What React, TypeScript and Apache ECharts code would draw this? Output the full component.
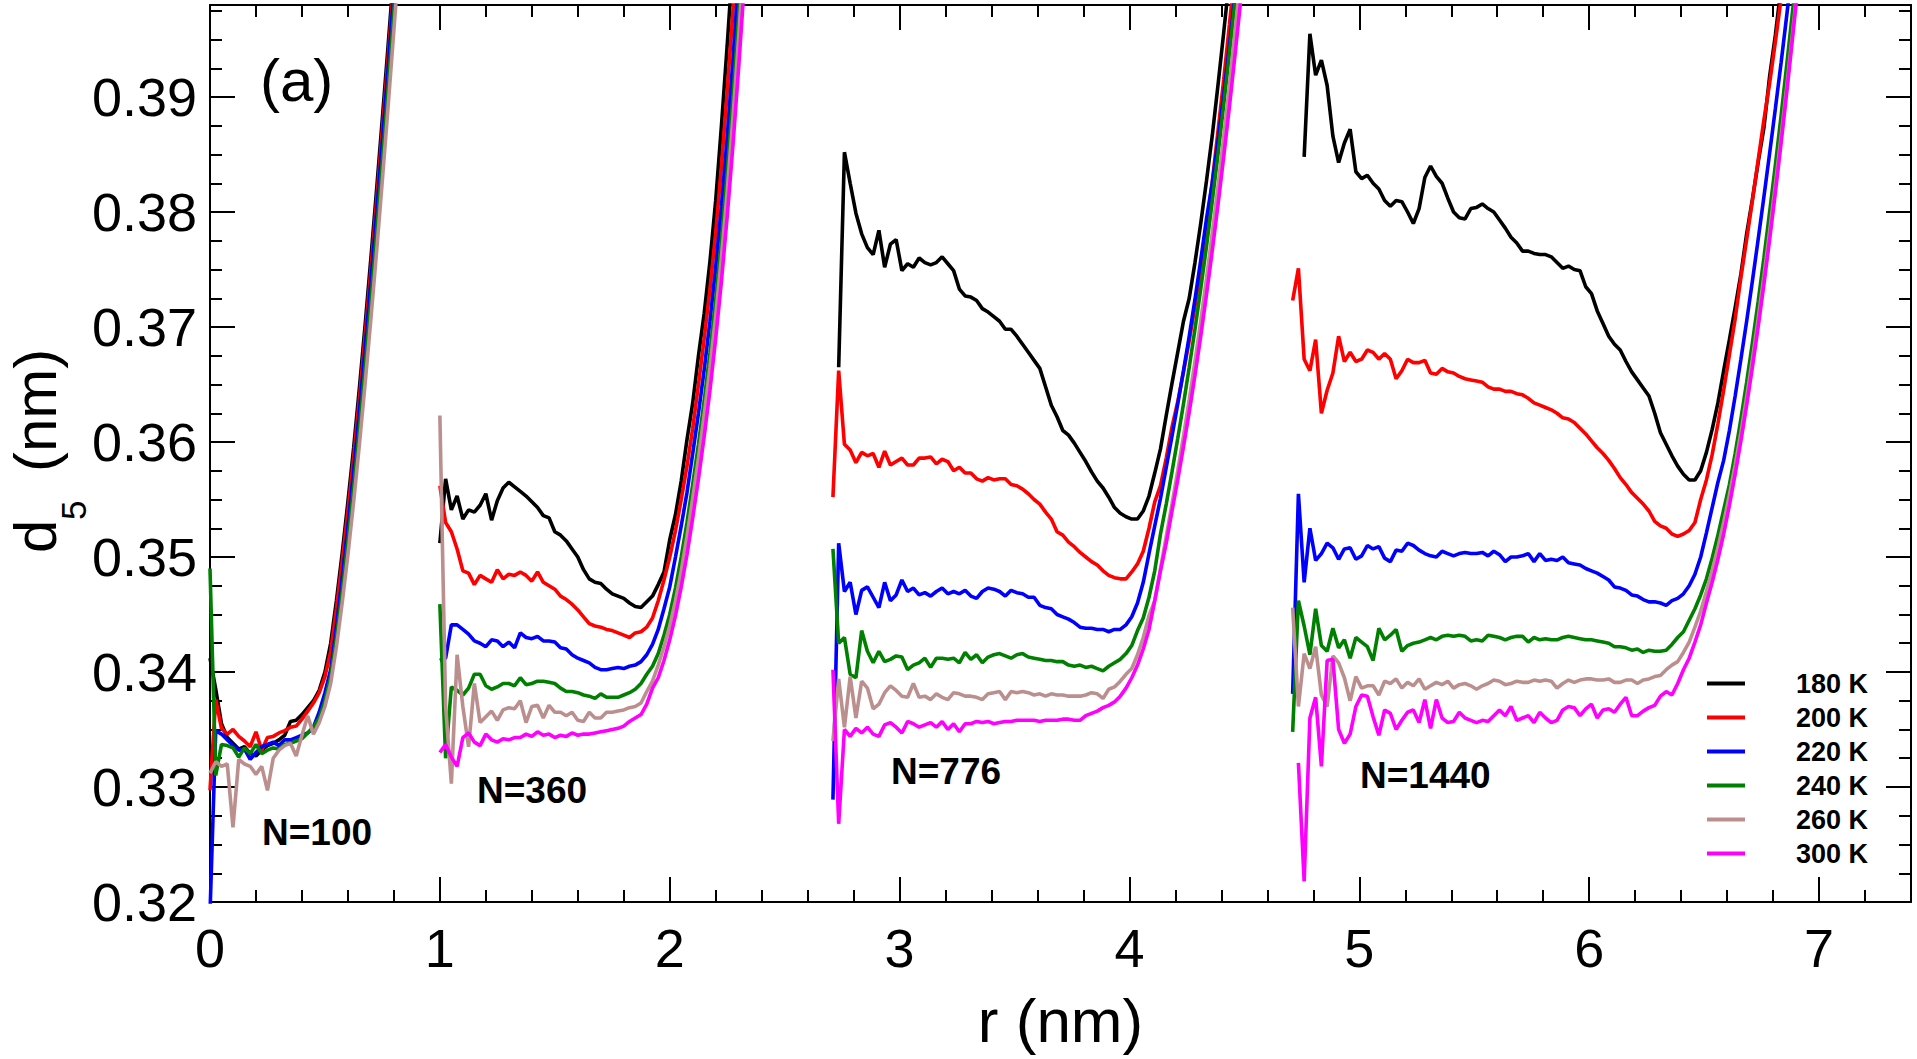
import React, { useEffect, useRef } from 'react';
import * as echarts from 'echarts';

// Sampling of every curve: one value per STEP nm, starting at the cluster's first r.
const STEP = 0.025;
const clusterStarts = [0.0, 1.0, 2.71, 4.71];
const clusterLabels = ['N=100', 'N=360', 'N=776', 'N=1440'];
const temperatures = ['180 K', '200 K', '220 K', '240 K', '260 K', '300 K'];
const lineColors = ['#000000', '#ff0000', '#0000ff', '#008000', '#bc8f8f', '#ff00ff'];
const xTickValues = [0, 1, 2, 3, 4, 5, 6, 7];
const yTickValues = [0.32, 0.33, 0.34, 0.35, 0.36, 0.37, 0.38, 0.39];

// ---- N = 100 ----
const k180_n100 = [0.3412, 0.3385, 0.3355, 0.3343, 0.3338, 0.3333, 0.3335, 0.3329, 0.3327, 0.3332, 0.3336, 0.3338, 0.3341, 0.3345, 0.3357, 0.3358, 0.3363, 0.3369, 0.3375, 0.3384, 0.3400, 0.3425, 0.3462, 0.3503, 0.3548, 0.3595, 0.3647, 0.3702, 0.3760, 0.3820, 0.3882, 0.3945, 0.4010];
const k200_n100 = [0.3297, 0.3376, 0.3351, 0.3346, 0.3350, 0.3344, 0.3340, 0.3335, 0.3348, 0.3332, 0.3343, 0.3344, 0.3347, 0.3349, 0.3352, 0.3353, 0.3359, 0.3366, 0.3373, 0.3382, 0.3396, 0.3418, 0.3455, 0.3496, 0.3540, 0.3587, 0.3638, 0.3693, 0.3750, 0.3810, 0.3872, 0.3935, 0.4000];
const k220_n100 = [0.3190, 0.3349, 0.3346, 0.3341, 0.3336, 0.3332, 0.3333, 0.3324, 0.3330, 0.3335, 0.3337, 0.3339, 0.3336, 0.3341, 0.3341, 0.3343, 0.3345, 0.3347, 0.3352, 0.3365, 0.3382, 0.3402, 0.3440, 0.3482, 0.3527, 0.3575, 0.3627, 0.3682, 0.3740, 0.3800, 0.3862, 0.3926, 0.3992, 0.4060];
const k240_n100 = [0.3490, 0.3310, 0.3337, 0.3336, 0.3334, 0.3326, 0.3334, 0.3329, 0.3337, 0.3329, 0.3332, 0.3334, 0.3333, 0.3337, 0.3338, 0.3340, 0.3342, 0.3347, 0.3352, 0.3360, 0.3375, 0.3396, 0.3430, 0.3470, 0.3514, 0.3561, 0.3612, 0.3666, 0.3723, 0.3783, 0.3845, 0.3909, 0.3975, 0.4043];
const k260_n100 = [0.3312, 0.3322, 0.3318, 0.3320, 0.3265, 0.3324, 0.3320, 0.3318, 0.3311, 0.3318, 0.3297, 0.3325, 0.3332, 0.3336, 0.3338, 0.3327, 0.3345, 0.3362, 0.3346, 0.3356, 0.3370, 0.3390, 0.3422, 0.3460, 0.3502, 0.3548, 0.3598, 0.3651, 0.3707, 0.3766, 0.3828, 0.3892, 0.3958, 0.4026];
const k300_n100: (number | null)[] = [];

// ---- N = 360 ----
const k180_n360 = [0.3512, 0.3568, 0.3541, 0.3553, 0.3533, 0.3541, 0.3539, 0.3545, 0.3555, 0.3532, 0.3549, 0.3560, 0.3565, 0.3561, 0.3557, 0.3553, 0.3548, 0.3543, 0.3536, 0.3534, 0.3522, 0.3519, 0.3514, 0.3507, 0.3500, 0.3489, 0.3481, 0.3478, 0.3477, 0.3472, 0.3468, 0.3466, 0.3464, 0.3460, 0.3457, 0.3456, 0.3461, 0.3466, 0.3476, 0.3487, 0.3515, 0.3537, 0.3566, 0.3602, 0.3634, 0.3675, 0.3712, 0.3757, 0.3810, 0.3875, 0.3945, 0.4020];
const k200_n360 = [0.3562, 0.3530, 0.3522, 0.3507, 0.3488, 0.3486, 0.3476, 0.3484, 0.3481, 0.3478, 0.3489, 0.3481, 0.3485, 0.3484, 0.3487, 0.3484, 0.3479, 0.3487, 0.3478, 0.3475, 0.3472, 0.3466, 0.3463, 0.3459, 0.3454, 0.3448, 0.3442, 0.3440, 0.3439, 0.3437, 0.3436, 0.3434, 0.3432, 0.3430, 0.3434, 0.3435, 0.3439, 0.3447, 0.3462, 0.3480, 0.3500, 0.3523, 0.3550, 0.3579, 0.3612, 0.3650, 0.3690, 0.3733, 0.3782, 0.3840, 0.3905, 0.3975, 0.4050];
const k220_n360 = [0.3410, 0.3412, 0.3441, 0.3441, 0.3437, 0.3433, 0.3427, 0.3425, 0.3422, 0.3428, 0.3427, 0.3422, 0.3426, 0.3421, 0.3434, 0.3430, 0.3429, 0.3431, 0.3427, 0.3427, 0.3426, 0.3421, 0.3420, 0.3415, 0.3412, 0.3410, 0.3408, 0.3404, 0.3402, 0.3402, 0.3403, 0.3404, 0.3403, 0.3405, 0.3406, 0.3409, 0.3415, 0.3424, 0.3437, 0.3455, 0.3474, 0.3500, 0.3527, 0.3556, 0.3590, 0.3625, 0.3663, 0.3705, 0.3752, 0.3805, 0.3865, 0.3932, 0.4005];
const k240_n360 = [0.3459, 0.3325, 0.3387, 0.3384, 0.3380, 0.3386, 0.3398, 0.3398, 0.3388, 0.3385, 0.3387, 0.3390, 0.3390, 0.3388, 0.3395, 0.3389, 0.3390, 0.3392, 0.3392, 0.3391, 0.3390, 0.3386, 0.3383, 0.3383, 0.3382, 0.3380, 0.3379, 0.3377, 0.3381, 0.3378, 0.3378, 0.3378, 0.3380, 0.3382, 0.3385, 0.3390, 0.3398, 0.3405, 0.3416, 0.3432, 0.3450, 0.3473, 0.3500, 0.3530, 0.3563, 0.3598, 0.3636, 0.3678, 0.3724, 0.3776, 0.3835, 0.3900, 0.3972, 0.4050];
const k260_n360 = [0.3623, 0.3370, 0.3303, 0.3415, 0.3370, 0.3335, 0.3390, 0.3356, 0.3361, 0.3366, 0.3358, 0.3367, 0.3369, 0.3368, 0.3375, 0.3356, 0.3370, 0.3371, 0.3360, 0.3371, 0.3365, 0.3365, 0.3362, 0.3365, 0.3358, 0.3357, 0.3365, 0.3360, 0.3360, 0.3365, 0.3365, 0.3366, 0.3367, 0.3369, 0.3370, 0.3373, 0.3383, 0.3392, 0.3406, 0.3422, 0.3440, 0.3462, 0.3488, 0.3518, 0.3551, 0.3586, 0.3624, 0.3665, 0.3710, 0.3761, 0.3818, 0.3882, 0.3952, 0.4030];
const k300_n360 = [0.3330, 0.3337, 0.3326, 0.3318, 0.3343, 0.3347, 0.3339, 0.3336, 0.3346, 0.3341, 0.3339, 0.3342, 0.3341, 0.3343, 0.3343, 0.3346, 0.3344, 0.3348, 0.3345, 0.3346, 0.3343, 0.3345, 0.3344, 0.3347, 0.3345, 0.3346, 0.3346, 0.3347, 0.3348, 0.3349, 0.3350, 0.3351, 0.3353, 0.3357, 0.3360, 0.3363, 0.3372, 0.3386, 0.3395, 0.3410, 0.3428, 0.3449, 0.3474, 0.3502, 0.3534, 0.3568, 0.3605, 0.3645, 0.3690, 0.3740, 0.3796, 0.3858, 0.3926, 0.4000, 0.4078];

// ---- N = 776 ----
const k180_n776 = [null, 0.3665, 0.3852, 0.3825, 0.3799, 0.3781, 0.3769, 0.3763, 0.3784, 0.3752, 0.3772, 0.3776, 0.3749, 0.3755, 0.3752, 0.3760, 0.3756, 0.3754, 0.3756, 0.3761, 0.3755, 0.3749, 0.3733, 0.3727, 0.3726, 0.3723, 0.3716, 0.3713, 0.3709, 0.3705, 0.3698, 0.3698, 0.3692, 0.3685, 0.3678, 0.3671, 0.3664, 0.3648, 0.3632, 0.3622, 0.3610, 0.3606, 0.3599, 0.3591, 0.3583, 0.3574, 0.3566, 0.3560, 0.3552, 0.3543, 0.3538, 0.3535, 0.3533, 0.3533, 0.3540, 0.3553, 0.3573, 0.3594, 0.3623, 0.3651, 0.3678, 0.3705, 0.3725, 0.3756, 0.3790, 0.3827, 0.3866, 0.3910, 0.3956, 0.4004, 0.4054];
const k200_n776 = [0.3552, 0.3662, 0.3598, 0.3593, 0.3582, 0.3591, 0.3588, 0.3590, 0.3578, 0.3592, 0.3580, 0.3583, 0.3586, 0.3580, 0.3580, 0.3586, 0.3586, 0.3587, 0.3581, 0.3585, 0.3583, 0.3575, 0.3578, 0.3573, 0.3573, 0.3568, 0.3566, 0.3569, 0.3567, 0.3568, 0.3568, 0.3563, 0.3562, 0.3559, 0.3555, 0.3550, 0.3546, 0.3539, 0.3533, 0.3522, 0.3519, 0.3513, 0.3509, 0.3504, 0.3500, 0.3496, 0.3493, 0.3488, 0.3484, 0.3482, 0.3481, 0.3481, 0.3487, 0.3494, 0.3505, 0.3525, 0.3548, 0.3562, 0.3586, 0.3613, 0.3635, 0.3661, 0.3688, 0.3718, 0.3751, 0.3786, 0.3826, 0.3870, 0.3915, 0.3963, 0.4012, 0.4062];
const k220_n776 = [0.3289, 0.3512, 0.3470, 0.3478, 0.3450, 0.3471, 0.3474, 0.3465, 0.3456, 0.3478, 0.3462, 0.3467, 0.3480, 0.3470, 0.3473, 0.3467, 0.3469, 0.3466, 0.3470, 0.3473, 0.3468, 0.3470, 0.3468, 0.3471, 0.3466, 0.3464, 0.3470, 0.3473, 0.3472, 0.3470, 0.3466, 0.3471, 0.3469, 0.3468, 0.3465, 0.3465, 0.3458, 0.3456, 0.3455, 0.3450, 0.3448, 0.3446, 0.3443, 0.3439, 0.3438, 0.3438, 0.3437, 0.3437, 0.3435, 0.3437, 0.3437, 0.3441, 0.3448, 0.3460, 0.3478, 0.3503, 0.3527, 0.3551, 0.3578, 0.3605, 0.3633, 0.3662, 0.3692, 0.3724, 0.3758, 0.3794, 0.3825, 0.3862, 0.3902, 0.3945, 0.3990, 0.4038];
const k240_n776 = [0.3507, 0.3425, 0.3430, 0.3398, 0.3395, 0.3436, 0.3418, 0.3408, 0.3418, 0.3409, 0.3411, 0.3414, 0.3413, 0.3402, 0.3406, 0.3408, 0.3412, 0.3404, 0.3412, 0.3412, 0.3411, 0.3412, 0.3408, 0.3417, 0.3411, 0.3415, 0.3408, 0.3413, 0.3415, 0.3416, 0.3414, 0.3412, 0.3415, 0.3416, 0.3413, 0.3412, 0.3411, 0.3410, 0.3410, 0.3409, 0.3409, 0.3406, 0.3405, 0.3406, 0.3404, 0.3405, 0.3403, 0.3401, 0.3405, 0.3408, 0.3411, 0.3416, 0.3423, 0.3436, 0.3447, 0.3465, 0.3488, 0.3520, 0.3546, 0.3574, 0.3603, 0.3633, 0.3665, 0.3698, 0.3733, 0.3770, 0.3809, 0.3850, 0.3893, 0.3938, 0.3985, 0.4034];
const k260_n776 = [0.3340, 0.3394, 0.3352, 0.3396, 0.3360, 0.3392, 0.3386, 0.3368, 0.3372, 0.3382, 0.3388, 0.3384, 0.3379, 0.3378, 0.3390, 0.3378, 0.3379, 0.3376, 0.3381, 0.3378, 0.3376, 0.3382, 0.3381, 0.3379, 0.3379, 0.3378, 0.3376, 0.3381, 0.3382, 0.3383, 0.3376, 0.3383, 0.3382, 0.3383, 0.3382, 0.3380, 0.3381, 0.3379, 0.3381, 0.3380, 0.3380, 0.3379, 0.3379, 0.3379, 0.3380, 0.3382, 0.3381, 0.3377, 0.3385, 0.3387, 0.3392, 0.3398, 0.3403, 0.3415, 0.3430, 0.3449, 0.3462, 0.3490, 0.3518, 0.3546, 0.3575, 0.3605, 0.3637, 0.3670, 0.3705, 0.3742, 0.3781, 0.3822, 0.3865, 0.3910, 0.3958, 0.4008];
const k300_n776 = [0.3402, 0.3268, 0.3350, 0.3344, 0.3351, 0.3347, 0.3352, 0.3346, 0.3344, 0.3354, 0.3356, 0.3352, 0.3347, 0.3357, 0.3355, 0.3352, 0.3354, 0.3356, 0.3352, 0.3357, 0.3350, 0.3355, 0.3348, 0.3355, 0.3355, 0.3357, 0.3356, 0.3357, 0.3355, 0.3356, 0.3357, 0.3357, 0.3358, 0.3358, 0.3358, 0.3358, 0.3357, 0.3358, 0.3358, 0.3358, 0.3359, 0.3359, 0.3358, 0.3358, 0.3362, 0.3364, 0.3366, 0.3369, 0.3371, 0.3374, 0.3379, 0.3386, 0.3395, 0.3406, 0.3420, 0.3437, 0.3462, 0.3488, 0.3512, 0.3540, 0.3567, 0.3596, 0.3626, 0.3658, 0.3692, 0.3728, 0.3766, 0.3806, 0.3848, 0.3892, 0.3938, 0.3986, 0.4036];

// ---- N = 1440 ----
const k180_n1440 = [null, null, 0.3848, 0.3955, 0.3919, 0.3932, 0.3910, 0.3866, 0.3843, 0.3860, 0.3872, 0.3835, 0.3829, 0.3832, 0.3825, 0.3820, 0.3810, 0.3805, 0.3810, 0.3809, 0.3800, 0.3790, 0.3803, 0.3830, 0.3840, 0.3831, 0.3825, 0.3812, 0.3800, 0.3795, 0.3794, 0.3803, 0.3804, 0.3807, 0.3803, 0.3800, 0.3793, 0.3786, 0.3778, 0.3773, 0.3766, 0.3766, 0.3764, 0.3763, 0.3763, 0.3761, 0.3756, 0.3751, 0.3753, 0.3750, 0.3749, 0.3735, 0.3729, 0.3714, 0.3703, 0.3692, 0.3685, 0.3680, 0.3670, 0.3661, 0.3654, 0.3647, 0.3640, 0.3625, 0.3608, 0.3598, 0.3588, 0.3579, 0.3572, 0.3567, 0.3567, 0.3575, 0.3591, 0.3611, 0.3634, 0.3662, 0.3689, 0.3717, 0.3746, 0.3781, 0.3811, 0.3843, 0.3873, 0.3918, 0.3954, 0.3996, 0.4040];
const k200_n1440 = [0.3723, 0.3751, 0.3672, 0.3662, 0.3689, 0.3625, 0.3645, 0.3660, 0.3692, 0.3670, 0.3678, 0.3670, 0.3672, 0.3680, 0.3678, 0.3672, 0.3677, 0.3672, 0.3655, 0.3662, 0.3672, 0.3669, 0.3669, 0.3671, 0.3660, 0.3659, 0.3664, 0.3661, 0.3660, 0.3657, 0.3655, 0.3654, 0.3653, 0.3652, 0.3648, 0.3646, 0.3646, 0.3644, 0.3644, 0.3642, 0.3641, 0.3638, 0.3634, 0.3632, 0.3630, 0.3628, 0.3625, 0.3621, 0.3620, 0.3617, 0.3612, 0.3607, 0.3601, 0.3595, 0.3590, 0.3584, 0.3577, 0.3569, 0.3563, 0.3556, 0.3551, 0.3546, 0.3540, 0.3531, 0.3527, 0.3525, 0.3520, 0.3518, 0.3520, 0.3523, 0.3530, 0.3550, 0.3567, 0.3589, 0.3616, 0.3645, 0.3676, 0.3707, 0.3743, 0.3776, 0.3810, 0.3845, 0.3880, 0.3912, 0.3948, 0.3986, 0.4028];
const k220_n1440 = [0.3381, 0.3555, 0.3478, 0.3525, 0.3497, 0.3503, 0.3512, 0.3508, 0.3498, 0.3507, 0.3508, 0.3498, 0.3501, 0.3510, 0.3507, 0.3509, 0.3499, 0.3496, 0.3506, 0.3505, 0.3512, 0.3510, 0.3506, 0.3503, 0.3501, 0.3500, 0.3505, 0.3503, 0.3501, 0.3503, 0.3504, 0.3503, 0.3503, 0.3504, 0.3501, 0.3505, 0.3502, 0.3496, 0.3500, 0.3500, 0.3501, 0.3503, 0.3496, 0.3503, 0.3497, 0.3498, 0.3497, 0.3500, 0.3495, 0.3494, 0.3493, 0.3490, 0.3488, 0.3486, 0.3483, 0.3480, 0.3474, 0.3473, 0.3471, 0.3467, 0.3466, 0.3463, 0.3461, 0.3461, 0.3460, 0.3458, 0.3462, 0.3464, 0.3468, 0.3475, 0.3485, 0.3500, 0.3521, 0.3543, 0.3565, 0.3584, 0.3610, 0.3640, 0.3672, 0.3705, 0.3740, 0.3776, 0.3813, 0.3851, 0.3890, 0.3930, 0.3972, 0.4015];
const k240_n1440 = [0.3348, 0.3462, 0.3440, 0.3415, 0.3455, 0.3423, 0.3418, 0.3438, 0.3421, 0.3428, 0.3412, 0.3430, 0.3426, 0.3422, 0.3410, 0.3438, 0.3428, 0.3432, 0.3437, 0.3418, 0.3423, 0.3425, 0.3426, 0.3428, 0.3430, 0.3428, 0.3431, 0.3432, 0.3431, 0.3432, 0.3431, 0.3427, 0.3428, 0.3427, 0.3432, 0.3431, 0.3430, 0.3428, 0.3430, 0.3431, 0.3431, 0.3426, 0.3430, 0.3428, 0.3429, 0.3428, 0.3428, 0.3430, 0.3431, 0.3430, 0.3429, 0.3428, 0.3428, 0.3427, 0.3426, 0.3425, 0.3422, 0.3422, 0.3421, 0.3419, 0.3420, 0.3417, 0.3419, 0.3418, 0.3418, 0.3419, 0.3424, 0.3430, 0.3435, 0.3445, 0.3455, 0.3467, 0.3481, 0.3499, 0.3519, 0.3541, 0.3563, 0.3590, 0.3620, 0.3652, 0.3686, 0.3722, 0.3760, 0.3800, 0.3841, 0.3884, 0.3929, 0.3975, 0.4022];
const k260_n1440 = [0.3456, 0.3370, 0.3416, 0.3403, 0.3422, 0.3380, 0.3370, 0.3414, 0.3408, 0.3395, 0.3375, 0.3396, 0.3386, 0.3388, 0.3388, 0.3380, 0.3392, 0.3390, 0.3394, 0.3386, 0.3391, 0.3388, 0.3394, 0.3385, 0.3388, 0.3391, 0.3389, 0.3392, 0.3386, 0.3389, 0.3390, 0.3388, 0.3385, 0.3388, 0.3390, 0.3393, 0.3392, 0.3389, 0.3390, 0.3392, 0.3391, 0.3391, 0.3393, 0.3392, 0.3393, 0.3392, 0.3386, 0.3390, 0.3393, 0.3391, 0.3393, 0.3394, 0.3394, 0.3393, 0.3393, 0.3394, 0.3391, 0.3391, 0.3393, 0.3393, 0.3390, 0.3393, 0.3394, 0.3396, 0.3397, 0.3402, 0.3406, 0.3409, 0.3417, 0.3426, 0.3439, 0.3453, 0.3470, 0.3488, 0.3508, 0.3530, 0.3554, 0.3580, 0.3608, 0.3639, 0.3672, 0.3707, 0.3744, 0.3783, 0.3824, 0.3866, 0.3910, 0.3956, 0.4004];
const k300_n1440 = [null, 0.3321, 0.3218, 0.3360, 0.3378, 0.3318, 0.3410, 0.3411, 0.3350, 0.3338, 0.3346, 0.3370, 0.3380, 0.3379, 0.3361, 0.3345, 0.3367, 0.3364, 0.3350, 0.3358, 0.3365, 0.3367, 0.3356, 0.3376, 0.3351, 0.3376, 0.3360, 0.3356, 0.3357, 0.3365, 0.3360, 0.3358, 0.3356, 0.3358, 0.3357, 0.3362, 0.3367, 0.3362, 0.3370, 0.3358, 0.3360, 0.3362, 0.3356, 0.3365, 0.3360, 0.3356, 0.3358, 0.3367, 0.3370, 0.3369, 0.3362, 0.3368, 0.3372, 0.3360, 0.3367, 0.3368, 0.3365, 0.3372, 0.3378, 0.3362, 0.3362, 0.3366, 0.3369, 0.3371, 0.3379, 0.3383, 0.3380, 0.3390, 0.3402, 0.3412, 0.3426, 0.3441, 0.3460, 0.3478, 0.3498, 0.3520, 0.3545, 0.3572, 0.3601, 0.3632, 0.3665, 0.3700, 0.3737, 0.3776, 0.3817, 0.3860, 0.3905, 0.3952, 0.4000];

const curvesByTemperature: (number | null)[][][] = [
  [k180_n100, k180_n360, k180_n776, k180_n1440],
  [k200_n100, k200_n360, k200_n776, k200_n1440],
  [k220_n100, k220_n360, k220_n776, k220_n1440],
  [k240_n100, k240_n360, k240_n776, k240_n1440],
  [k260_n100, k260_n360, k260_n776, k260_n1440],
  [k300_n100, k300_n360, k300_n776, k300_n1440],
];

const FONT = '"Liberation Sans", Arial, Helvetica, sans-serif';

// Join the four clusters of one temperature into a single line series,
// with an empty point between clusters so the line breaks.
function toSeriesData(clusters: (number | null)[][]) {
  const out: any[] = [];
  clusters.forEach((vals, c) => {
    vals.forEach((v, i) => {
      if (v !== null) out.push([+(clusterStarts[c] + i * STEP).toFixed(4), v]);
    });
    out.push([clusterStarts[c] + vals.length * STEP + 0.01, '-']);
  });
  return out;
}

const isWhole = (v: number, scale: number) => Math.abs(v * scale - Math.round(v * scale)) < 1e-6;

const tickLine = { color: '#000', width: 2 };

function frameAxis(position: string, min: number, max: number, interval: number, tickLen: number, showLine: boolean) {
  return {
    type: 'value',
    position,
    min,
    max,
    interval,
    axisLine: { show: showLine, onZero: false, lineStyle: { color: '#000', width: 2 } },
    axisTick: { show: true, inside: true, length: tickLen, lineStyle: tickLine },
    axisLabel: { show: false },
    splitLine: { show: false },
  };
}

function plainText(x: number, y: number, text: string, fontSize: number, extra: any = {}) {
  return {
    type: 'text',
    x,
    y,
    ...extra,
    style: {
      text,
      fontSize,
      fontFamily: FONT,
      fontWeight: extra.fontWeight || 'normal',
      fill: '#000',
      lineHeight: extra.lineHeight || fontSize,
      align: 'left',
      verticalAlign: 'middle',
      textAlign: 'left',
      textVerticalAlign: 'middle',
    },
  };
}

export default function App() {
  const ref = useRef<HTMLDivElement>(null);

  useEffect(() => {
    if (!ref.current) return;
    const chart = echarts.init(ref.current, undefined, { renderer: 'svg' });

    const xMain: any = frameAxis('bottom', 0, 7.4, 1, 25, true);
    xMain.axisLabel = {
      show: true,
      margin: 19,
      fontSize: 54,
      color: '#000',
      fontFamily: FONT,
      formatter: (v: number) => (isWhole(v, 1) && xTickValues.includes(Math.round(v)) ? String(Math.round(v)) : ''),
    };
    xMain.name = 'r (nm)';
    xMain.nameLocation = 'middle';
    xMain.nameGap = 87;
    xMain.nameTextStyle = { fontSize: 62, color: '#000', fontFamily: FONT };

    const yMain: any = frameAxis('left', 0.32, 0.398, 0.01, 25, true);
    yMain.axisLabel = {
      show: true,
      margin: 13,
      fontSize: 54,
      color: '#000',
      fontFamily: FONT,
      formatter: (v: number) =>
        isWhole(v, 100) && yTickValues.some((t) => Math.abs(t - v) < 1e-9) ? v.toFixed(2) : '',
    };

    const clusterLabelPos = [
      { x: 262, y: 832 },
      { x: 477, y: 790 },
      { x: 891, y: 771 },
      { x: 1360, y: 775 },
    ];

    const option: any = {
      animation: false,
      backgroundColor: '#ffffff',
      grid: { left: 210, top: 5, width: 1701, height: 897, containLabel: false },
      xAxis: [
        xMain,
        frameAxis('bottom', 0, 7.4, 0.2, 12, false),
        frameAxis('top', 0, 7.4, 1, 25, true),
        frameAxis('top', 0, 7.4, 0.2, 12, false),
      ],
      yAxis: [
        yMain,
        frameAxis('left', 0.32, 0.398, 0.0025, 12, false),
        frameAxis('right', 0.32, 0.398, 0.01, 25, true),
        frameAxis('right', 0.32, 0.398, 0.0025, 12, false),
      ],
      legend: {
        orient: 'vertical',
        left: 1702,
        top: 665,
        icon: 'rect',
        itemWidth: 38,
        itemHeight: 4,
        itemGap: 7,
        selectedMode: false,
        data: temperatures,
        textStyle: {
          fontSize: 27,
          fontWeight: 'bold',
          color: '#000',
          fontFamily: FONT,
          lineHeight: 27,
          padding: [0, 0, 0, 46],
        },
      },
      series: temperatures.map((t, k) => ({
        name: t,
        type: 'line',
        xAxisIndex: 0,
        yAxisIndex: 0,
        data: toSeriesData(curvesByTemperature[k]),
        symbol: 'none',
        showSymbol: false,
        connectNulls: false,
        clip: true,
        z: 2 + k,
        lineStyle: { color: lineColors[k], width: 3.6 },
        itemStyle: { color: lineColors[k] },
      })),
      graphic: [
        plainText(260, 80, '(a)', 60),
        ...clusterLabelPos.map((p, c) => plainText(p.x, p.y, clusterLabels[c], 37, { fontWeight: 'bold' })),
        // vertical axis title: d with subscript 5, then (nm)
        plainText(35, 553, 'd', 60, { rotation: Math.PI / 2, lineHeight: 44 }),
        plainText(73, 520, '5', 35, { rotation: Math.PI / 2, lineHeight: 30 }),
        plainText(35, 472, '(nm)', 60, { rotation: Math.PI / 2, lineHeight: 44 }),
      ],
    };

    chart.setOption(option);
    return () => chart.dispose();
  }, []);

  return (
    <div
      ref={ref}
      style={{ position: 'absolute', left: 0, top: 0, width: 1917, height: 1059, background: '#fff' }}
    />
  );
}
